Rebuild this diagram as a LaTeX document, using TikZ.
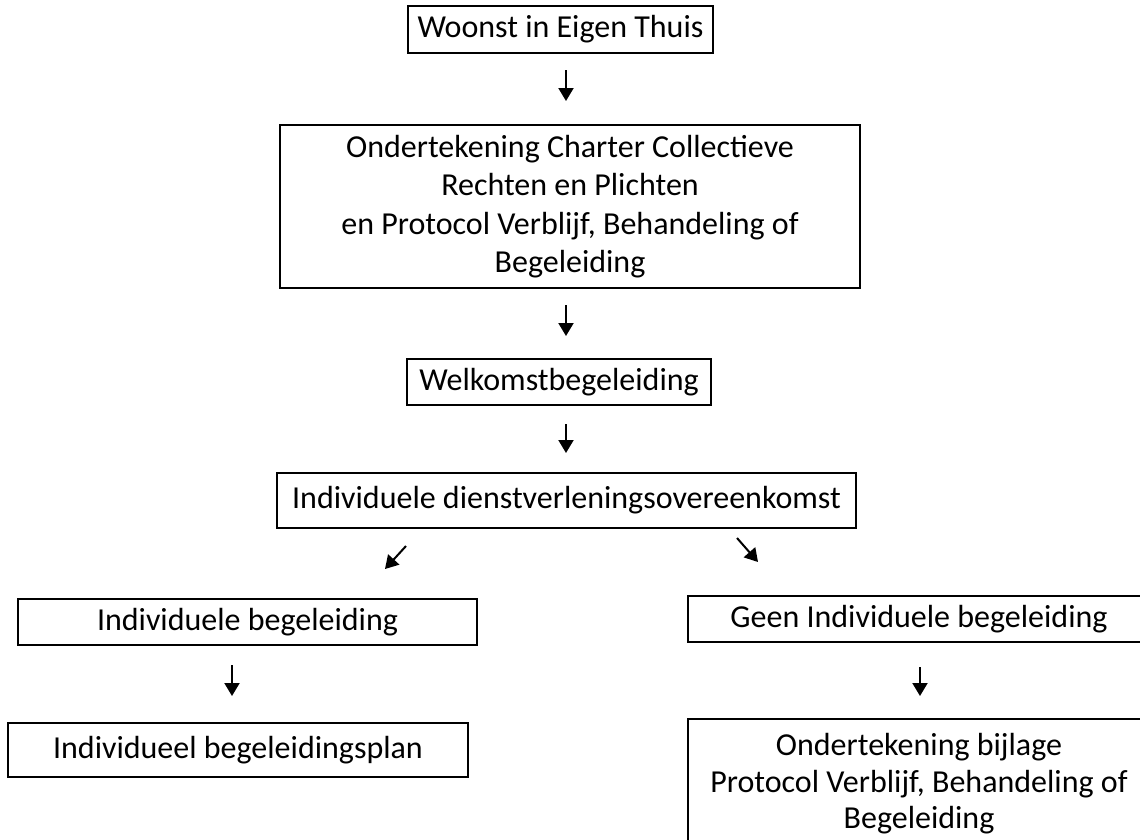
\documentclass[tikz,border=0pt]{standalone}
\usepackage{fontspec}
\setmainfont{Carlito}
\usetikzlibrary{arrows.meta}
\begin{document}
\begin{tikzpicture}[x=1pt,y=-1pt,
  box/.style={draw=black,line width=2pt,rectangle,inner sep=0pt,align=center,
    font=\fontsize{32}{38.5}\selectfont},
  flow/.style={line width=2pt,-{Triangle[width=15pt,length=13pt]}}]
\useasboundingbox (0,0) rectangle (1140,839);
\clip (0,0) rectangle (1140,839);
\fill[white] (0,0) rectangle (1140,839);
\node[box,minimum width=305pt,minimum height=47pt] (b1) at (560.5,29.5) {Woonst in Eigen Thuis};
\node[box,minimum width=580pt,minimum height=163pt] (b2) at (570,206.5) {Ondertekening Charter Collectieve\\Rechten en Plichten\\en Protocol Verblijf, Behandeling of\\Begeleiding};
\node[box,minimum width=304pt,minimum height=46pt] (b3) at (559,382) {Welkomstbegeleiding};
\node[box,minimum width=579pt,minimum height=55pt] (b4) at (566.5,500.5) {Individuele dienstverleningsovereenkomst};
\node[box,minimum width=459pt,minimum height=46pt] (b5) at (247.5,622) {Individuele begeleiding};
\node[box,minimum width=460pt,minimum height=54pt] (b6) at (238,750) {Individueel begeleidingsplan};
\node[box,minimum width=462pt,minimum height=46pt] (b7) at (919,619) {Geen Individuele begeleiding};
\node[box,font=\fontsize{32}{36.5}\selectfont,minimum width=462pt,minimum height=130pt] (b8) at (919,784) {Ondertekening bijlage\\Protocol Verblijf, Behandeling of\\Begeleiding};
\coordinate (a1s) at (566,70);  \coordinate (a1e) at (566,101);
\coordinate (a2s) at (566,305); \coordinate (a2e) at (566,336);
\coordinate (a3s) at (566,424); \coordinate (a3e) at (566,453);
\coordinate (a4s) at (406,546); \coordinate (a4e) at (385,569);
\coordinate (a5s) at (737,538); \coordinate (a5e) at (758,562);
\coordinate (a6s) at (232,665); \coordinate (a6e) at (232,696);
\coordinate (a7s) at (920,667); \coordinate (a7e) at (920,696);
\draw[flow] (a1s) -- (a1e);
\draw[flow] (a2s) -- (a2e);
\draw[flow] (a3s) -- (a3e);
\draw[flow] (a4s) -- (a4e);
\draw[flow] (a5s) -- (a5e);
\draw[flow] (a6s) -- (a6e);
\draw[flow] (a7s) -- (a7e);
\end{tikzpicture}
\end{document}
